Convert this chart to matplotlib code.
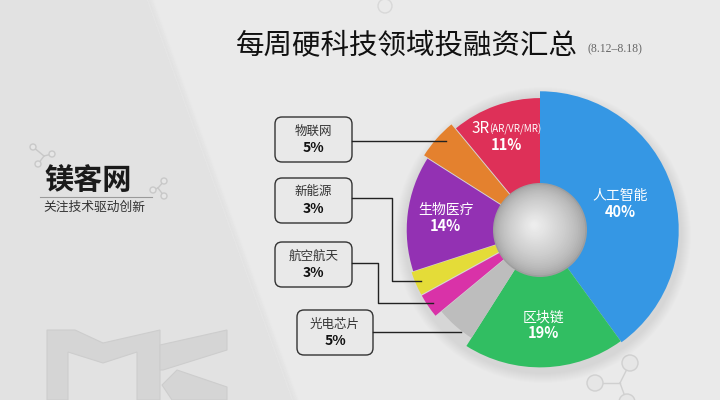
#coding:utf-8
import numpy as np
import matplotlib
matplotlib.use("Agg")
import matplotlib.pyplot as plt
from matplotlib.patches import Circle, Polygon, FancyBboxPatch

plt.rcParams['font.family'] = ['Noto Sans CJK SC', 'DejaVu Sans']

# data, clockwise from 12 o'clock
names = ['人工智能', '区块链', '光电芯片', '航空航天', '新能源', '生物医疗', '物联网', '3R(AR/VR/MR)']
shares = [40, 19, 5, 3, 3, 14, 5, 11]
colors = ['#3597e4', '#31be62', '#bdbdbd', '#d932a8', '#e4dc38', '#9331b3', '#e4812e', '#de3058']

W, H = 720, 400
CX, CY = 540, 170      # pie centre (y up)
R = 136
R_HOLE = 47


def py(y):
    # pixel row -> data y
    return H - y


fig = plt.figure(figsize=(7.2, 4), dpi=100)
ax = fig.add_axes([0, 0, 1, 1])
ax.set_xlim(0, W)
ax.set_ylim(0, H)
ax.axis('off')

# background
ax.add_patch(Polygon([(0, 0), (W, 0), (W, H), (0, H)], closed=True, fc='#e2e2e2', ec='none', zorder=0))
ax.add_patch(Polygon([(147, H), (W, H), (W, 0), (292, 0)], closed=True, fc='#eaeaea', ec='none', zorder=0))
for k in range(6):
    ax.plot([148 + k, 293 + k], [H, 0], color='#d2d2d2', alpha=0.18 - k * 0.03, lw=1.2, zorder=0.5)

# MK watermark
m_pts = [(47, 330), (75, 330), (103, 343), (160, 330), (160, 400), (137, 400), (137, 352),
         (103, 363), (68, 352), (68, 400), (47, 400)]
k_up = [(160, 345), (227, 330), (227, 350), (163, 370), (160, 370)]
k_dn = [(177, 370), (227, 387), (227, 400), (172, 400), (162, 385)]
for pts in (m_pts, k_up, k_dn):
    ax.add_patch(Polygon([(x, py(y)) for x, y in pts], closed=True, fc='#d5d5d5',
                         ec='#cdcdcd', lw=0.8, zorder=1))

# molecule decorations
def molecule(pts, r, color='#c8c8c8'):
    pts = [(x, py(y)) for x, y in pts]
    hub = pts[0]
    for p in pts[1:]:
        ax.plot([hub[0], p[0]], [hub[1], p[1]], color=color, lw=1, zorder=1)
    for p in pts[1:]:
        ax.add_patch(Circle(p, r, fc='#e6e6e6', ec=color, lw=1, zorder=1.2))

molecule([(44, 156), (33, 147), (52, 154), (38, 164)], 3)
molecule([(158, 188), (164, 181), (153, 190), (164, 196)], 3)
molecule([(620, 383), (630, 363), (595, 383), (627, 402)], 8, '#d0d0d0')
ax.add_patch(Circle((385, py(6)), 7, fc='none', ec='#d8d8d8', lw=1, zorder=1))

# logo
ax.text(44, py(180), '镁客网', fontsize=21, fontweight='heavy', color='#1a1a1a', va='center', ha='left', zorder=3)
ax.plot([40, 152], [py(197), py(197)], color='#9a9a9a', lw=0.8, zorder=3)
ax.text(43, py(207), '关注技术驱动创新', fontsize=9.2, color='#333333', va='center', ha='left', zorder=3)

# title
ax.text(407, py(45), '每周硬科技领域投融资汇总', fontsize=20.5, color='#111111', ha='center', va='center', zorder=3)
ax.text(588, py(49), '(8.12–8.18)', fontsize=8.5, color='#666666', family='Liberation Serif',
        ha='left', va='center', zorder=3)

# pie shadow
for k in range(10):
    ax.add_patch(Circle((CX + 3, CY - 5), R + 12 - k, fc='#000000', ec='none', alpha=0.008, zorder=1.5))

wedges, _ = ax.pie(shares, colors=colors, startangle=90, counterclock=False,
                   radius=R, center=(CX, CY), frame=True,
                   wedgeprops=dict(linewidth=0, zorder=2))
ax.set_xlim(0, W)
ax.set_ylim(0, H)
ax.axis('off')
ax.set_aspect('equal')

# slight per-slice radius / offset to mimic the 3D look
rad_scale = [1.02, 1.01, 0.94, 0.95, 0.95, 0.98, 0.97, 0.97]
explode = [0, 0, 0, 6, 6, 0, 6, 0]
mids = []
for w, s, e in zip(wedges, rad_scale, explode):
    w.set_radius(R * s)
    mid = np.deg2rad((w.theta1 + w.theta2) / 2)
    mids.append(mid)
    w.set_center((CX + e * np.cos(mid), CY + e * np.sin(mid)))
    w.set_zorder(2)

# hole with radial shading
for k in range(30):
    t = k / 29
    r = R_HOLE * (1 - t * 0.95)
    g = 0.62 + 0.31 * (t ** 0.6)
    ax.add_patch(Circle((CX - 6 * t, CY + 5 * t), r, fc=(g, g, g), ec='none', zorder=3))

# labels inside big slices
lab_r = {0: 0.62, 1: 0.70, 5: 0.70, 7: 0.73}
for i, rf in lab_r.items():
    x = CX + rf * R * np.cos(mids[i])
    y = CY + rf * R * np.sin(mids[i])
    if i == 7:
        ax.text(x - 17, y + 8, '3R', fontsize=11, color='white', ha='right', va='center', zorder=4)
        ax.text(x - 17, y + 7, '(AR/VR/MR)', fontsize=7, color='white', ha='left', va='center', zorder=4)
    else:
        ax.text(x, y + 8, names[i], fontsize=10, color='white', ha='center', va='center', zorder=4)
    ax.text(x, y - 8, '%d%%' % shares[i], fontsize=10.5, fontweight='bold', color='white',
            ha='center', va='center', zorder=4)

# callout boxes for the small slices: (slice index, box left, box top, box width, line y px, bend x px)
callouts = [(6, 275, 117, 77, 141, None),
            (4, 275, 178, 77, 198, 392),
            (3, 275, 242, 77, 263, 378),
            (2, 297, 310, 76, 332, None)]
for i, bx, by, bw, ly, bend in callouts:
    bh = 45
    ax.add_patch(FancyBboxPatch((bx + 4, py(by + bh) + 4), bw - 8, bh - 8,
                                boxstyle='round,pad=4,rounding_size=7',
                                fc='#e9e9e9', ec='#333333', lw=1.0, zorder=3))
    ax.text(bx + bw / 2, py(by + 14), names[i], fontsize=9, color='#333333', ha='center', va='center', zorder=4)
    ax.text(bx + bw / 2, py(by + 31), '%d%%' % shares[i], fontsize=10, fontweight='bold',
            color='#111111', ha='center', va='center', zorder=4)
    rr = 0.95 * R
    if bend is None:
        dy = py(ly) - CY
        ex = CX - np.sqrt(rr ** 2 - dy ** 2)
        ax.plot([bx + bw, ex], [py(ly), py(ly)], color='#222222', lw=1, zorder=4)
    else:
        ex = CX + rr * np.cos(mids[i])
        ey = CY + rr * np.sin(mids[i])
        ax.plot([bx + bw, bend, bend, ex], [py(ly), py(ly), ey, ey], color='#222222', lw=1, zorder=4)

fig.savefig('out.png', dpi=100)
